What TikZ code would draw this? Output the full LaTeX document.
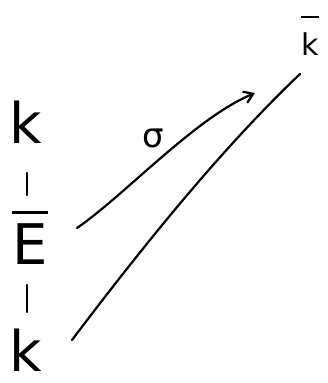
\documentclass[tikz,border=0pt]{standalone}
\usepackage{fontspec}
\setmainfont{DejaVu Sans}
\usetikzlibrary{arrows.meta}
\newcommand\barred[3]{\setbox0\hbox{#1}\vbox{\hrule height #3 width \wd0\kern#2\box0}}
\begin{document}
\begin{tikzpicture}[x=1pt,y=-1pt,line width=2.2pt,line cap=round,
  big/.style={font=\fontsize{56}{56}\selectfont,inner sep=0pt},
  med/.style={font=\fontsize{34}{34}\selectfont,inner sep=0pt},
  small/.style={font=\fontsize{30}{30}\selectfont,inner sep=0pt}]
\useasboundingbox (0,0) rectangle (328,383);
\node[big,anchor=base] (K) at (26,143) {k};
\node[big,anchor=base] (E) at (30,264) {\barred{E}{9pt}{3pt}};
\node[big,anchor=base] (k) at (26,371) {k};
\node[small,anchor=base] (kb) at (310,55) {\barred{k}{14pt}{2.5pt}};
\node[med] (s) at (153,138) {σ};
\coordinate (a1) at (77,228);
\coordinate (a2) at (255,93);
\coordinate (l1) at (72,340);
\coordinate (l2) at (300,74);
\draw (27,173) -- (27,195);
\draw (27,285) -- (27,312);
\draw[-{Straight Barb[length=9pt,width=12pt]}] (a1) .. controls (125,195) and (195,118) .. (a2);
\draw (l1) .. controls (140,250) and (220,150) .. (l2);
\end{tikzpicture}
\end{document}
